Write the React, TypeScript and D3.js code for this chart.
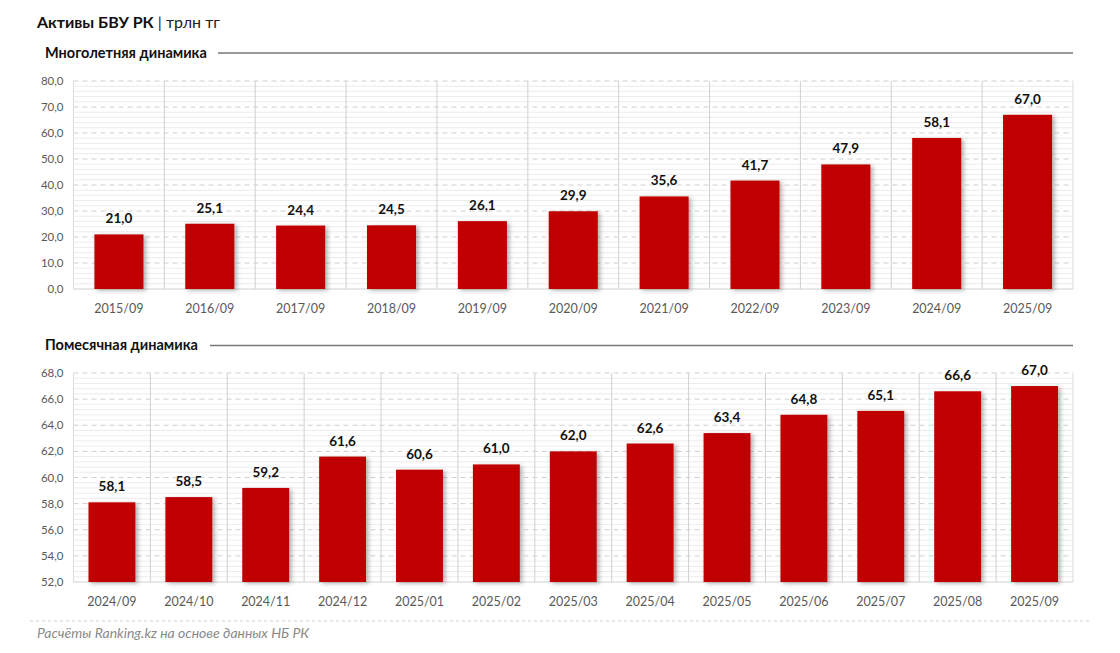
import React from "react";
import * as d3 from "d3";

const yearCats = ["2015/09","2016/09","2017/09","2018/09","2019/09","2020/09","2021/09","2022/09","2023/09","2024/09","2025/09"];
const yearVals = [21.0, 25.1, 24.4, 24.5, 26.1, 29.9, 35.6, 41.7, 47.9, 58.1, 67.0];
const yearTicks = [0, 10, 20, 30, 40, 50, 60, 70, 80];

const monthCats = ["2024/09","2024/10","2024/11","2024/12","2025/01","2025/02","2025/03","2025/04","2025/05","2025/06","2025/07","2025/08","2025/09"];
const monthVals = [58.1, 58.5, 59.2, 61.6, 60.6, 61.0, 62.0, 62.6, 63.4, 64.8, 65.1, 66.6, 67.0];
const monthTicks = [52, 54, 56, 58, 60, 62, 64, 66, 68];

const FONT = "Lato, 'Open Sans', sans-serif";
const RED = "#C00000";

const fmt = (v: number, d = 1) => v.toFixed(d).replace(".", ",");

type PanelProps = {
  cats: string[]; vals: number[]; ticks: number[];
  domain: [number, number];
  x0: number; x1: number; yTop: number; yBot: number;
  pad: number; id: string;
};

function Panel({ cats, vals, ticks, domain, x0, x1, yTop, yBot, pad, id }: PanelProps) {
  const x = d3.scaleBand<string>().domain(cats).range([x0, x1]).paddingInner(pad).paddingOuter(pad / 2);
  const step = (x1 - x0) / cats.length;
  const y = d3.scaleLinear().domain(domain).range([yBot, yTop]);
  const minorStep = (ticks[1] - ticks[0]) / 5;
  const minors = d3.range(domain[0] + minorStep, domain[1], minorStep).filter(
    (v) => !ticks.some((t) => Math.abs(t - v) < 1e-6)
  );
  return (
    <g>
      {minors.map((v, i) => (
        <line key={"m" + i} x1={x0} x2={x1} y1={y(v)} y2={y(v)} stroke="#ececec" strokeWidth={1} />
      ))}
      {ticks.filter((t) => t !== domain[0]).map((t) => (
        <line key={"t" + t} x1={x0} x2={x1} y1={y(t)} y2={y(t)} stroke="#cfcfcf" strokeDasharray="5,4" strokeWidth={1} />
      ))}
      {d3.range(cats.length + 1).map((i) => (
        <line key={"v" + i} x1={x0 + i * step} x2={x0 + i * step} y1={yTop} y2={yBot}
          stroke={i === 0 || i === cats.length ? "#dcdcdc" : "#d0d0d0"} strokeWidth={1} />
      ))}
      <line x1={x0} x2={x1} y1={yBot} y2={yBot} stroke="#d0d0d0" />
      {ticks.map((t) => (
        <text key={"yl" + t} x={x0 - 10} y={y(t)} dy="0.35em" textAnchor="end" fontSize={11.5} fill="#595959" fontFamily={FONT}>
          {fmt(t)}
        </text>
      ))}
      {cats.map((c, i) => (
        <g key={c}>
          <rect x={x(c)!} y={y(vals[i])} width={x.bandwidth()} height={yBot - y(vals[i])} fill={RED} filter={`url(#${id})`} />
          <text x={x(c)! + x.bandwidth() / 2} y={y(vals[i]) - 11} textAnchor="middle" fontSize={13.5} fontWeight="bold" fill="#111" fontFamily={FONT}>
            {fmt(vals[i])}
          </text>
          <text x={x(c)! + x.bandwidth() / 2} y={yBot + 24} textAnchor="middle" fontSize={12.5} fill="#595959" fontFamily={FONT}>
            {c}
          </text>
        </g>
      ))}
    </g>
  );
}

export default function App() {
  return (
    <svg width={1120} height={653} style={{ position: "absolute", left: 0, top: 0, background: "#fff" }}>
      <defs>
        <filter id="sh1" x="-20%" y="-10%" width="150%" height="130%">
          <feDropShadow dx="2.5" dy="1.5" stdDeviation="2" floodColor="#000" floodOpacity="0.3" />
        </filter>
        <filter id="sh2" x="-20%" y="-10%" width="150%" height="130%">
          <feDropShadow dx="2.5" dy="1.5" stdDeviation="2" floodColor="#000" floodOpacity="0.3" />
        </filter>
      </defs>
      <rect width={1120} height={653} fill="#fff" />
      <text x={37} y={28} fontFamily={FONT} fontSize={16} fill="#111">
        <tspan fontWeight="bold">Активы БВУ РК</tspan>
        <tspan fill="#222"> | трлн тг</tspan>
      </text>
      <text x={45} y={58} fontFamily={FONT} fontSize={14.5} fontWeight="bold" fill="#111">Многолетняя динамика</text>
      <line x1={218} x2={1073} y1={53} y2={53} stroke="#777" strokeWidth={1.5} />
      <Panel cats={yearCats} vals={yearVals} ticks={yearTicks} domain={[0, 80]}
        x0={73.5} x1={1073} yTop={81} yBot={289} pad={0.46} id="sh1" />
      <text x={45} y={350} fontFamily={FONT} fontSize={14.5} fontWeight="bold" fill="#111">Помесячная динамика</text>
      <line x1={210} x2={1073} y1={345.5} y2={345.5} stroke="#777" strokeWidth={1.5} />
      <Panel cats={monthCats} vals={monthVals} ticks={monthTicks} domain={[52, 68]}
        x0={73.5} x1={1073} yTop={373} yBot={582} pad={0.39} id="sh2" />
      <line x1={30} x2={1090} y1={621} y2={621} stroke="#cfcfcf" strokeDasharray="3,3" />
      <text x={37} y={638} fontFamily={FONT} fontSize={14} fontStyle="italic" fill="#8a8a8a">
        Расчёты Ranking.kz на основе данных НБ РК
      </text>
    </svg>
  );
}
